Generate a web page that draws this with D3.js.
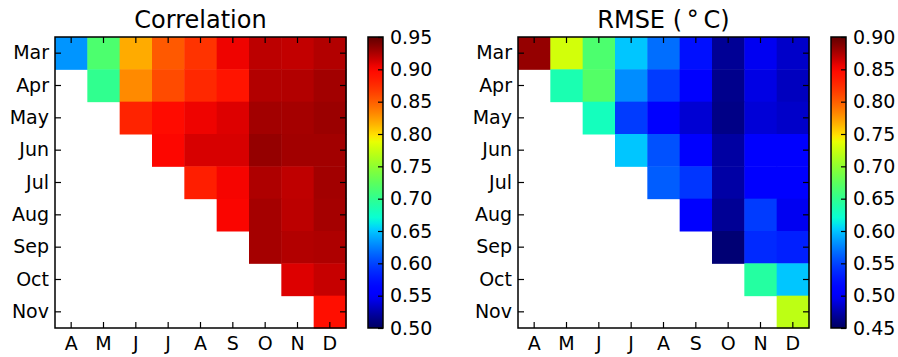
<!DOCTYPE html>
<html>
<head>
<meta charset="utf-8">
<script src="https://cdn.jsdelivr.net/npm/d3@7"></script>
<style>
  body { margin: 0; background: #fff; }
  svg { display: block; font-family: "DejaVu Sans", sans-serif; }
</style>
</head>
<body>
<div id="chart"></div>
<script>
// rows = start month, cols = end month
const rowLabels = ["Mar", "Apr", "May", "Jun", "Jul", "Aug", "Sep", "Oct", "Nov"];
const colLabels = ["A", "M", "J", "J", "A", "S", "O", "N", "D"];

// correlation, row i starts at column i (null = blank)
const corrValues = [
  [0.633, 0.716, 0.818, 0.852, 0.871, 0.905, 0.920, 0.918, 0.923],
  [null, 0.700, 0.831, 0.859, 0.877, 0.890, 0.923, 0.923, 0.928],
  [null, null, 0.880, 0.897, 0.905, 0.910, 0.928, 0.927, 0.930],
  [null, null, null, 0.901, 0.912, 0.912, 0.932, 0.928, 0.928],
  [null, null, null, null, 0.883, 0.903, 0.924, 0.919, 0.928],
  [null, null, null, null, null, 0.902, 0.927, 0.920, 0.927],
  [null, null, null, null, null, null, 0.927, 0.923, 0.924],
  [null, null, null, null, null, null, null, 0.910, 0.917],
  [null, null, null, null, null, null, null, null, 0.894]
];

// RMSE in deg C
const rmseValues = [
  [0.882, 0.729, 0.666, 0.600, 0.568, 0.521, 0.468, 0.496, 0.484],
  [null, 0.635, 0.670, 0.580, 0.546, 0.505, 0.465, 0.492, 0.481],
  [null, null, 0.630, 0.546, 0.500, 0.487, 0.463, 0.488, 0.484],
  [null, null, null, 0.600, 0.556, 0.503, 0.472, 0.505, 0.502],
  [null, null, null, null, 0.561, 0.543, 0.473, 0.503, 0.503],
  [null, null, null, null, null, 0.503, 0.468, 0.546, 0.496],
  [null, null, null, null, null, null, 0.457, 0.537, 0.531],
  [null, null, null, null, null, null, null, 0.642, 0.600],
  [null, null, null, null, null, null, null, null, 0.720]
];

const corrTicks = [0.50, 0.55, 0.60, 0.65, 0.70, 0.75, 0.80, 0.85, 0.90, 0.95];
const rmseTicks = [0.45, 0.50, 0.55, 0.60, 0.65, 0.70, 0.75, 0.80, 0.85, 0.90];

// jet (matplotlib segments), channels pushed a bit to look like the saturated original
const jetSeg = {
  r: [[0, 0], [0.35, 0], [0.66, 1], [0.89, 1], [1, 0.5]],
  g: [[0, 0], [0.125, 0], [0.375, 1], [0.64, 1], [0.91, 0], [1, 0]],
  b: [[0, 0.5], [0.11, 1], [0.34, 1], [0.65, 0], [1, 0]]
};
function seg(pts, t) {
  for (let i = 1; i < pts.length; i++) {
    if (t <= pts[i][0]) {
      const [x0, y0] = pts[i - 1], [x1, y1] = pts[i];
      return y0 + (y1 - y0) * (t - x0) / (x1 - x0);
    }
  }
  return pts[pts.length - 1][1];
}
function jet(t) {
  t = Math.max(0, Math.min(1, t));
  const c = k => Math.pow(seg(jetSeg[k], t), 1.4) * 255;
  return d3.rgb(c("r"), c("g"), c("b")).toString();
}

const W = 898, H = 357;
const svg = d3.select("#chart").append("svg").attr("width", W).attr("height", H);
const defs = svg.append("defs");

const side = 291, plotTop = 37, fs = 19;

function panel(px, cbx, values, ticks, title, id) {
  const g = svg.append("g");
  const x = d3.scaleBand().domain(d3.range(colLabels.length)).range([px, px + side]);
  const y = d3.scaleBand().domain(d3.range(rowLabels.length)).range([plotTop, plotTop + side]);
  const vmin = ticks[0], vmax = ticks[ticks.length - 1];
  const color = v => jet((v - vmin) / (vmax - vmin));

  const cells = [];
  values.forEach((row, i) => row.forEach((v, j) => { if (v != null) cells.push({ i, j, v }); }));
  g.selectAll("rect.cell").data(cells).enter().append("rect")
    .attr("x", d => x(d.j)).attr("y", d => y(d.i))
    .attr("width", x.bandwidth() + 0.5).attr("height", y.bandwidth() + 0.5)
    .attr("fill", d => color(d.v));

  // inward ticks on all four sides
  g.append("g").attr("transform", `translate(0,${plotTop + side})`)
    .call(d3.axisBottom(x).tickSizeInner(-6).tickSizeOuter(0).tickPadding(9).tickFormat(i => colLabels[i]));
  g.append("g").attr("transform", `translate(${px},0)`)
    .call(d3.axisLeft(y).tickSizeInner(-6).tickSizeOuter(0).tickPadding(6).tickFormat(i => rowLabels[i]));
  g.append("g").attr("transform", `translate(0,${plotTop})`)
    .call(d3.axisTop(x).tickSizeInner(-6).tickSizeOuter(0).tickFormat(""));
  g.append("g").attr("transform", `translate(${px + side},0)`)
    .call(d3.axisRight(y).tickSizeInner(-6).tickSizeOuter(0).tickFormat(""));
  g.selectAll(".domain").remove();
  g.selectAll(".tick line").attr("stroke", "#000").attr("stroke-width", 1.2);
  g.selectAll(".tick text").attr("font-size", fs).attr("fill", "#000")
    .attr("font-family", "DejaVu Sans");

  g.append("rect").attr("x", px).attr("y", plotTop).attr("width", side).attr("height", side)
    .attr("fill", "none").attr("stroke", "#000").attr("stroke-width", 1.5);

  g.append("text").attr("x", px + side / 2).attr("y", 28)
    .attr("text-anchor", "middle").attr("font-size", 24).attr("fill", "#000")
    .text(title);

  // colorbar
  const grad = defs.append("linearGradient").attr("id", id)
    .attr("x1", 0).attr("y1", 1).attr("x2", 0).attr("y2", 0);
  d3.range(0, 1.0001, 0.02).forEach(t => {
    grad.append("stop").attr("offset", t).attr("stop-color", jet(t));
  });
  const cy = d3.scaleLinear().domain([vmin, vmax]).range([plotTop + side, plotTop]);
  const cbw = 15;
  g.append("rect").attr("x", cbx).attr("y", plotTop).attr("width", cbw).attr("height", side)
    .attr("fill", `url(#${id})`);
  const cax = g.append("g").attr("transform", `translate(${cbx + cbw},0)`)
    .call(d3.axisRight(cy).tickValues(ticks).tickSizeInner(-5).tickSizeOuter(0).tickPadding(7).tickFormat(d3.format(".2f")));
  cax.select(".domain").remove();
  cax.selectAll(".tick line").attr("stroke", "#000").attr("stroke-width", 1.2);
  cax.selectAll(".tick text").attr("font-size", fs).attr("fill", "#000")
    .attr("font-family", "DejaVu Sans");
  g.append("rect").attr("x", cbx).attr("y", plotTop).attr("width", cbw).attr("height", side)
    .attr("fill", "none").attr("stroke", "#000").attr("stroke-width", 1.5);
}

panel(55, 368, corrValues, corrTicks, "Correlation", "gradCorr");
panel(518, 831, rmseValues, rmseTicks, "RMSE (\u2009\u00b0\u2009C)", "gradRmse");
</script>
</body>
</html>
